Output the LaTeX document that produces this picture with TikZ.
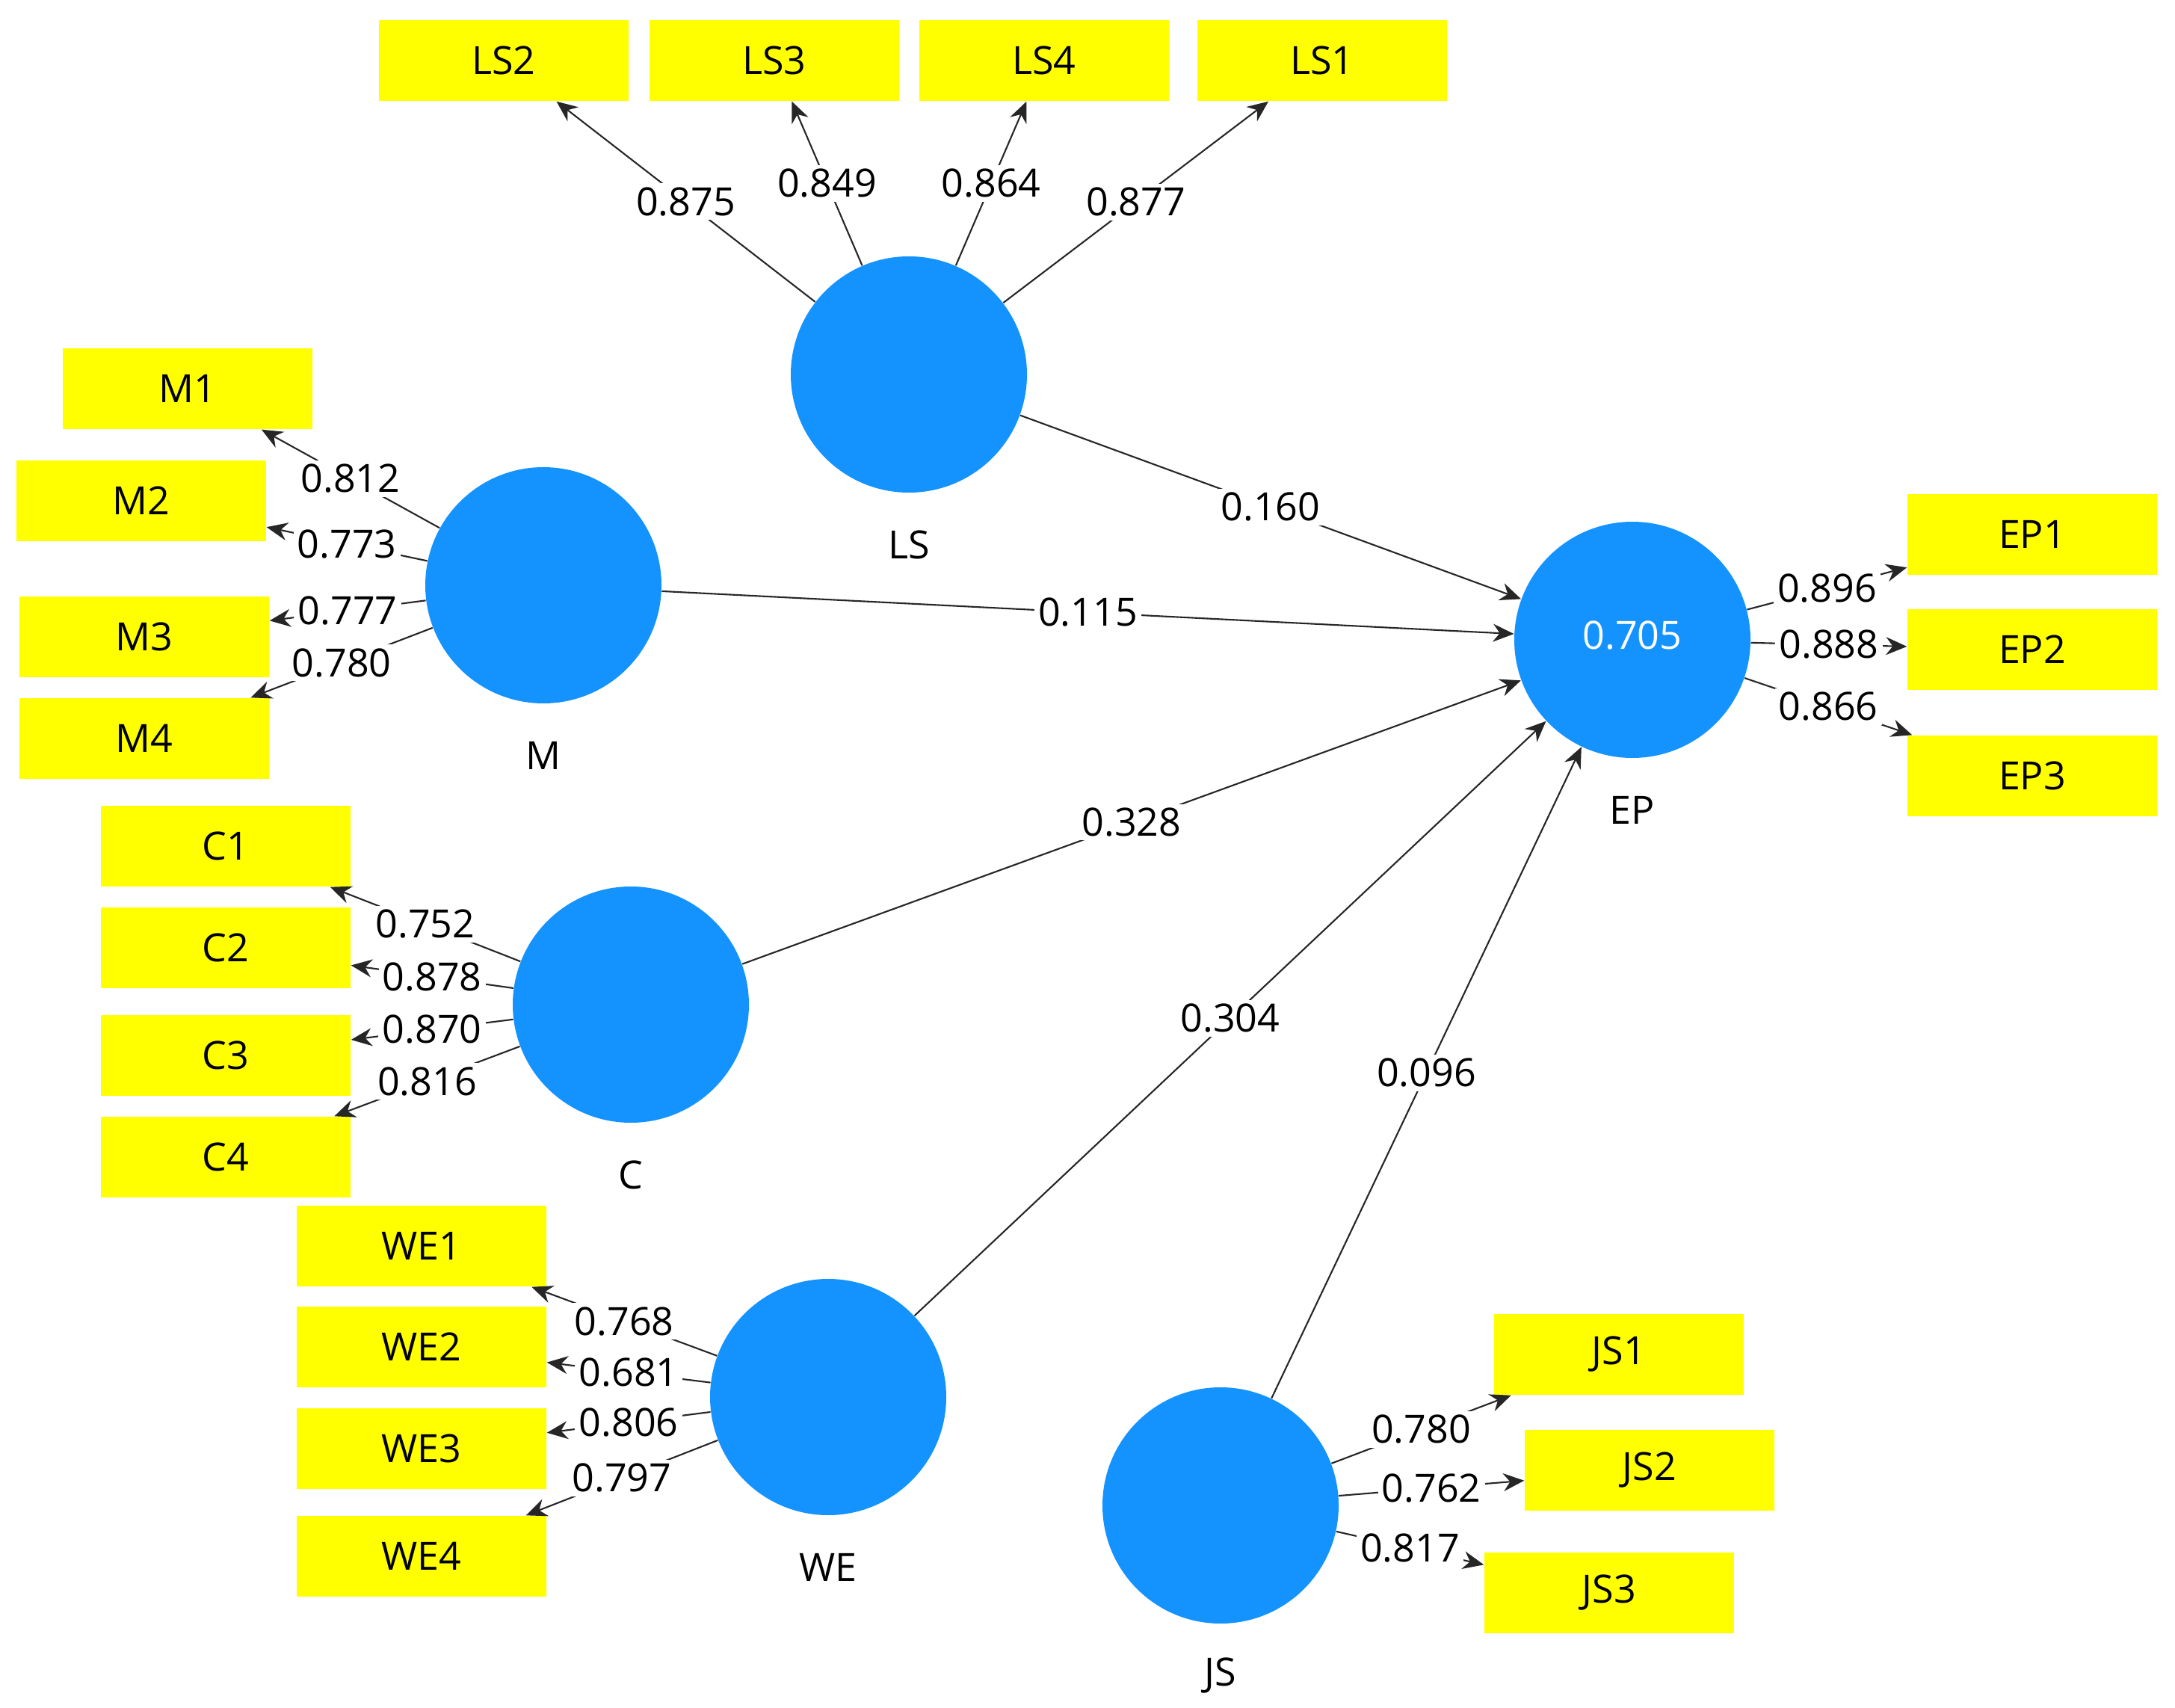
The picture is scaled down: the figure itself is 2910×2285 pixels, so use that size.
\documentclass[tikz,border=0pt]{standalone}
\usepackage{fontspec}
\setmainfont{Open Sans}
\usetikzlibrary{arrows.meta}
\definecolor{lvblue}{RGB}{20,147,255}
\definecolor{indyellow}{RGB}{255,255,0}
\begin{document}
\begin{tikzpicture}[x={(0.1mm,0)}, y={(0,-0.1mm)},
  every node/.style={font=\fontsize{14.8}{17}\selectfont},
  lv/.style={circle, fill=lvblue, minimum size=31.6mm, inner sep=0pt, text=white},
  ind/.style={rectangle, fill=indyellow, minimum width=33.4mm, minimum height=10.8mm, inner sep=0pt},
  ld/.style={draw=black!85, line width=0.6pt, -{Stealth[length=2.8mm,width=2.4mm]}},
  wt/.style={fill=white, inner sep=1.5pt, text=black, midway}]
\useasboundingbox[fill=white] (0,0) rectangle (2910,2285);
% latent variables
\node[lv] (LS) at (1216,501) {};
\node[lv] (M) at (727,783) {};
\node[lv] (C) at (844,1344) {};
\node[lv] (WE) at (1108,1869) {};
\node[lv] (JS) at (1633,2014) {};
\node[lv] (EP) at (2184,856) {\raisebox{1.2mm}{0.705}};
% names
\node (LSn) at (1216,729) {LS};
\node (Mn) at (727,1011) {M};
\node (Cn) at (844,1572) {C};
\node (WEn) at (1108,2097) {WE};
\node (JSn) at (1633,2242) {JS};
\node (EPn) at (2184,1084) {EP};
% indicators
\node[ind] (LS2) at (674,81) {LS2};
\node[ind] (LS3) at (1036,81) {LS3};
\node[ind] (LS4) at (1397,81) {LS4};
\node[ind] (LS1) at (1769,81) {LS1};
\node[ind] (M1) at (251,520) {M1};
\node[ind] (M2) at (189,670) {M2};
\node[ind] (M3) at (193,852) {M3};
\node[ind] (M4) at (193,988) {M4};
\node[ind] (C1) at (302,1132) {C1};
\node[ind] (C2) at (302,1268) {C2};
\node[ind] (C3) at (302,1412) {C3};
\node[ind] (C4) at (302,1548) {C4};
\node[ind] (WE1) at (564,1667) {WE1};
\node[ind] (WE2) at (564,1802) {WE2};
\node[ind] (WE3) at (564,1938) {WE3};
\node[ind] (WE4) at (564,2082) {WE4};
\node[ind] (EP1) at (2719,715) {EP1};
\node[ind] (EP2) at (2719,869) {EP2};
\node[ind] (EP3) at (2719,1038) {EP3};
\node[ind] (JS1) at (2166,1812) {JS1};
\node[ind] (JS2) at (2207,1967) {JS2};
\node[ind] (JS3) at (2153,2131) {JS3};
% outer loadings
\draw[ld] (LS) -- node[wt]{0.875} (LS2);
\draw[ld] (LS) -- node[wt]{0.849} (LS3);
\draw[ld] (LS) -- node[wt]{0.864} (LS4);
\draw[ld] (LS) -- node[wt]{0.877} (LS1);
\draw[ld] (M) -- node[wt]{0.812} (M1);
\draw[ld] (M) -- node[wt]{0.773} (M2);
\draw[ld] (M) -- node[wt]{0.777} (M3);
\draw[ld] (M) -- node[wt]{0.780} (M4);
\draw[ld] (C) -- node[wt]{0.752} (C1);
\draw[ld] (C) -- node[wt]{0.878} (C2);
\draw[ld] (C) -- node[wt]{0.870} (C3);
\draw[ld] (C) -- node[wt]{0.816} (C4);
\draw[ld] (WE) -- node[wt]{0.768} (WE1);
\draw[ld] (WE) -- node[wt]{0.681} (WE2);
\draw[ld] (WE) -- node[wt]{0.806} (WE3);
\draw[ld] (WE) -- node[wt]{0.797} (WE4);
\draw[ld] (EP) -- node[wt]{0.896} (EP1);
\draw[ld] (EP) -- node[wt]{0.888} (EP2);
\draw[ld] (EP) -- node[wt]{0.866} (EP3);
\draw[ld] (JS) -- node[wt]{0.780} (JS1);
\draw[ld] (JS) -- node[wt]{0.762} (JS2);
\draw[ld] (JS) -- node[wt]{0.817} (JS3);
% inner paths
\draw[ld] (LS) -- node[wt]{0.160} (EP);
\draw[ld] (M) -- node[wt]{0.115} (EP);
\draw[ld] (C) -- node[wt]{0.328} (EP);
\draw[ld] (WE) -- node[wt]{0.304} (EP);
\draw[ld] (JS) -- node[wt]{0.096} (EP);
\end{tikzpicture}
\end{document}
